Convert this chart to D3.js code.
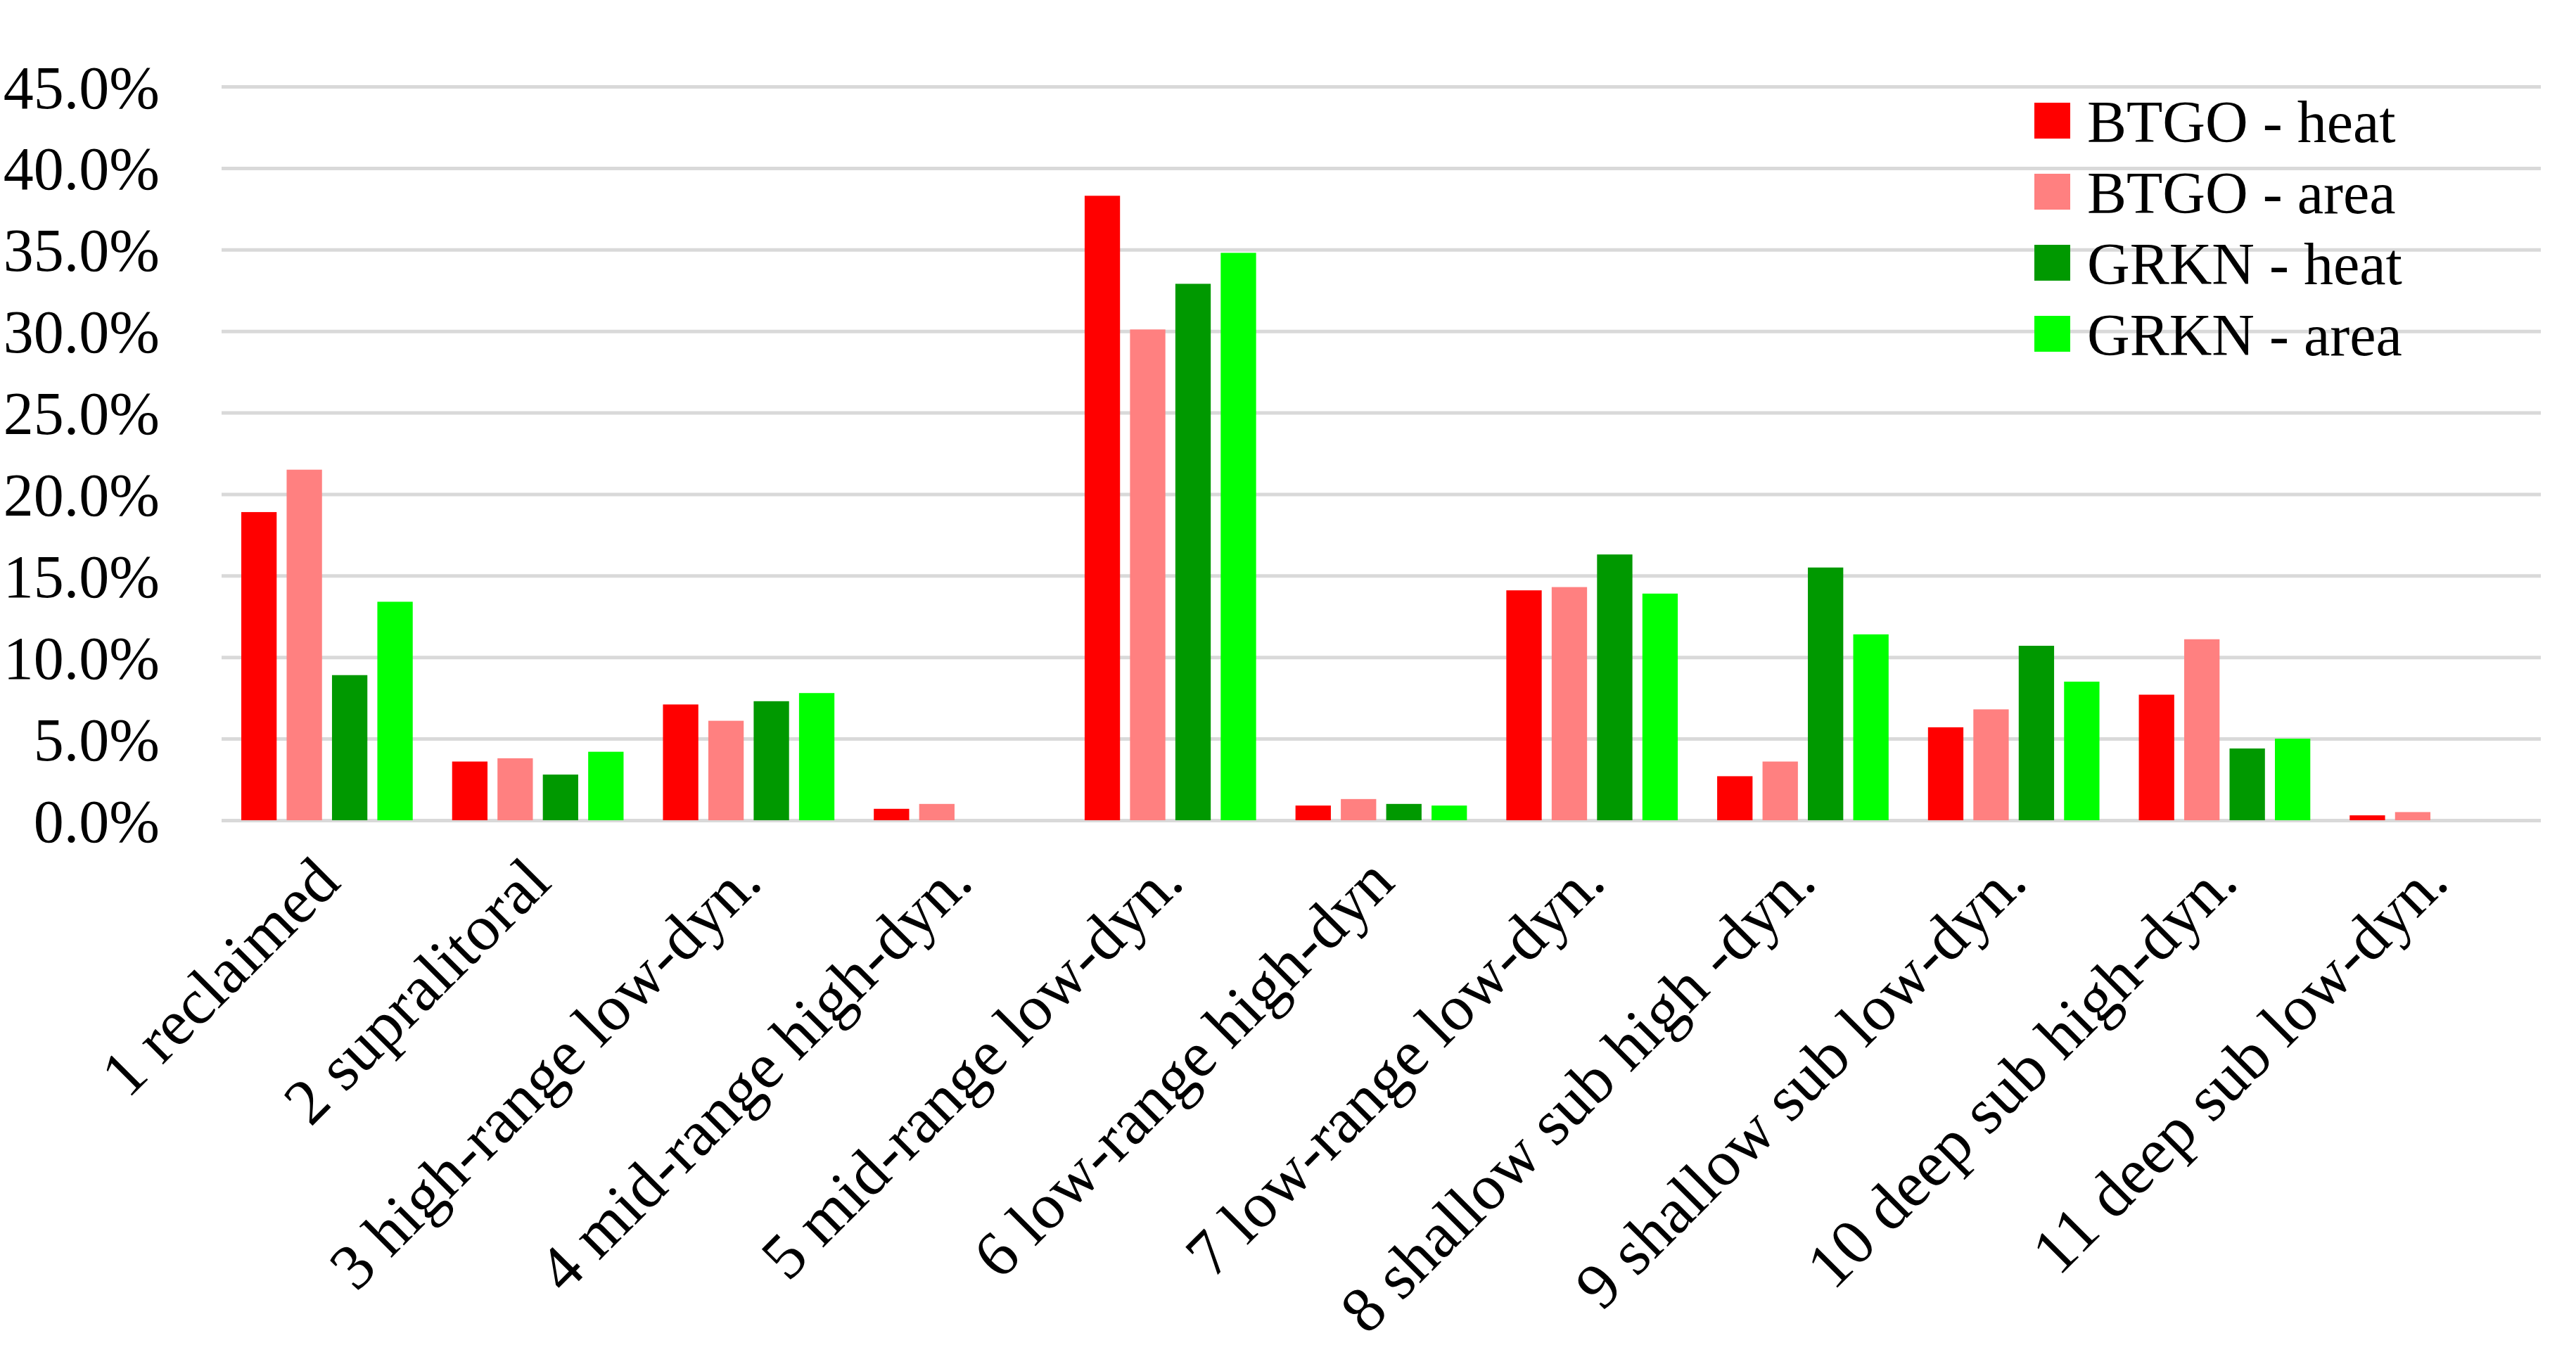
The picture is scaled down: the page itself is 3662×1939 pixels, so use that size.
<!DOCTYPE html>
<html><head><meta charset="utf-8">
<script src="https://cdn.jsdelivr.net/npm/d3@7"></script>
<style>body{margin:0;background:#fff}</style></head>
<body><svg id="c" width="3662" height="1939"></svg>
<script>
const categories=["1 reclaimed","2 supralitoral","3 high-range low-dyn.","4 mid-range high-dyn.","5 mid-range low-dyn.","6 low-range high-dyn","7 low-range low-dyn.","8 shallow sub high -dyn.","9 shallow sub low-dyn.","10 deep sub high-dyn.","11 deep sub low-dyn."];
const seriesNames=["BTGO - heat","BTGO - area","GRKN - heat","GRKN - area"];
const seriesColors=["#ff0000","#ff8080","#009900","#00ff00"];
const btgoHeat=[18.9,3.6,7.1,0.7,38.3,0.9,14.1,2.7,5.7,7.7,0.3];
const btgoArea=[21.5,3.8,6.1,1.0,30.1,1.3,14.3,3.6,6.8,11.1,0.5];
const grknHeat=[8.9,2.8,7.3,0,32.9,1.0,16.3,15.5,10.7,4.4,0];
const grknArea=[13.4,4.2,7.8,0,34.8,0.9,13.9,11.4,8.5,5.0,0];
const yTicks=[0,5,10,15,20,25,30,35,40,45];
const series=[btgoHeat,btgoArea,grknHeat,grknArea];

const svg=d3.select("#c");
const L=315,R=3612,T=123,B=1166;
const font="'Liberation Serif', serif";
const x=d3.scaleBand().domain(categories).range([L,R]).paddingInner(0).paddingOuter(0);
const x1=d3.scaleBand().domain(seriesNames).range([28,x.bandwidth()-28]).paddingInner(0.22).paddingOuter(0);
const y=d3.scaleLinear().domain([0,45]).range([B,T]);

const gy=svg.append("g").attr("transform",`translate(${L},0)`)
 .call(d3.axisLeft(y).tickValues(yTicks).tickSize(-(R-L)).tickFormat(d=>d.toFixed(1)+"%"));
gy.select(".domain").remove();
gy.selectAll(".tick line").attr("stroke","#d9d9d9").attr("stroke-width",5);
gy.selectAll(".tick text").attr("x",-88).attr("dy","0.35em").attr("font-family",font).attr("font-size",86).attr("fill","#000");

categories.forEach((c,i)=>{
  series.forEach((s,j)=>{
    if(s[i]<=0) return;
    svg.append("rect").attr("x",x(c)+x1(seriesNames[j])).attr("width",x1.bandwidth())
      .attr("y",y(s[i])).attr("height",B-y(s[i])).attr("fill",seriesColors[j]);
  });
});

const gx=svg.append("g").attr("transform",`translate(0,${B})`).call(d3.axisBottom(x).tickSize(0));
gx.select(".domain").remove();
gx.selectAll(".tick text").attr("font-family",font).attr("font-size",92).attr("fill","#000")
  .attr("text-anchor","end").attr("dy",0).attr("y",0)
  .attr("transform","translate(22,92) rotate(-45)");

const lg=svg.append("g");
seriesNames.forEach((n,j)=>{
  const yy=202+j*101;
  lg.append("rect").attr("x",2892).attr("y",yy-56).attr("width",51).attr("height",51).attr("fill",seriesColors[j]);
  lg.append("text").attr("x",2967).attr("y",yy).attr("font-family",font).attr("font-size",84).text(n);
});
</script></body></html>
